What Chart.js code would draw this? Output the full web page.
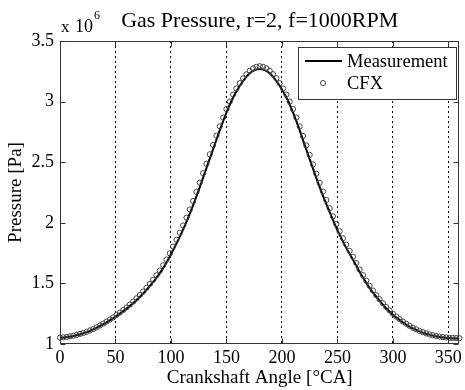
<!DOCTYPE html>
<html><head><meta charset="utf-8">
<script src="https://cdn.jsdelivr.net/npm/chart.js@4/dist/chart.umd.min.js"></script>
<style>html,body{margin:0;padding:0;background:#fff}</style>
</head><body>
<canvas id="c" width="465" height="390" style="display:block;width:465px;height:390px"></canvas>
<script>
// Measurement (x: crank angle in degrees, y: pressure in units of 10^6 Pa)
const measAngles = [0,5,10,15,20,25,30,35,40,45,50,55,60,65,70,75,80,85,90,95,100,105,110,115,120,125,130,135,140,145,150,155,160,165,170,175,180,185,190,195,200,205,210,215,220,225,230,235,240,245,250,255,260,265,270,275,280,285,290,295,300,305,310,315,320,325,330,335,340,345,350,355,360];
const measValues = [1.050,1.055,1.062,1.072,1.085,1.100,1.120,1.143,1.168,1.195,1.225,1.258,1.292,1.330,1.372,1.418,1.468,1.523,1.585,1.655,1.740,1.830,1.925,2.030,2.145,2.270,2.400,2.530,2.660,2.790,2.910,3.015,3.100,3.170,3.225,3.258,3.270,3.258,3.225,3.170,3.100,3.015,2.910,2.790,2.655,2.525,2.395,2.270,2.155,2.045,1.940,1.845,1.760,1.680,1.595,1.520,1.450,1.390,1.335,1.285,1.242,1.205,1.172,1.144,1.120,1.100,1.084,1.071,1.061,1.054,1.049,1.046,1.045];
// CFX simulation
const cfxAngles = [0,3,6,9,12,15,18,21,24,27,30,33,36,39,42,45,48,51,54,57,60,63,66,69,72,75,78,81,84,87,90,93,96,99,102,105,108,111,114,117,120,123,126,129,132,135,138,141,144,147,150,153,156,159,162,165,168,171,174,177,180,183,186,189,192,195,198,201,204,207,210,213,216,219,222,225,228,231,234,237,240,243,246,249,252,255,258,261,264,267,270,273,276,279,282,285,288,291,294,297,300,303,306,309,312,315,318,321,324,327,330,333,336,339,342,345,348,351,354,357,360];
const cfxValues = [1.052,1.055,1.058,1.063,1.068,1.075,1.083,1.091,1.100,1.112,1.124,1.138,1.153,1.168,1.185,1.202,1.220,1.240,1.259,1.281,1.302,1.326,1.350,1.377,1.404,1.433,1.464,1.496,1.530,1.567,1.606,1.650,1.697,1.748,1.804,1.860,1.918,1.978,2.042,2.110,2.180,2.255,2.331,2.409,2.487,2.565,2.642,2.719,2.796,2.868,2.938,3.000,3.058,3.108,3.152,3.192,3.225,3.254,3.274,3.287,3.292,3.287,3.274,3.254,3.226,3.193,3.152,3.108,3.058,3.000,2.938,2.868,2.795,2.716,2.638,2.560,2.482,2.405,2.330,2.258,2.188,2.120,2.054,1.990,1.930,1.872,1.820,1.768,1.720,1.668,1.615,1.568,1.523,1.480,1.441,1.403,1.369,1.336,1.305,1.277,1.250,1.227,1.205,1.185,1.167,1.150,1.135,1.121,1.108,1.098,1.088,1.079,1.072,1.066,1.061,1.057,1.054,1.051,1.050,1.049,1.048];
const xTicks = [0,50,100,150,200,250,300,350];
const yTicks = [1,1.5,2,2.5,3,3.5];
const titleText = 'Gas Pressure, r=2, f=1000RPM';
const xLabel = 'Crankshaft Angle [°CA]';
const yLabel = 'Pressure [Pa]';
const seriesNames = ['Measurement', 'CFX'];

const SERIF = '"Liberation Serif", "Times New Roman", serif';

const framePlugin = {
  id: 'frame',
  afterDraw(chart) {
    const ctx = chart.ctx, a = chart.chartArea;
    const xs = chart.scales.x, ys = chart.scales.y;
    ctx.save();
    ctx.strokeStyle = '#333';
    ctx.lineWidth = 1;
    ctx.setLineDash([]);
    const L = Math.round(a.left) + 0.5, R = Math.round(a.right) - 0.5;
    const T = Math.round(a.top) + 0.5, B = Math.round(a.bottom) - 0.5;
    ctx.strokeRect(L, T, R - L, B - T);
    ctx.beginPath();
    xTicks.forEach(v => {
      const px = Math.round(xs.getPixelForValue(v)) + 0.5;
      ctx.moveTo(px, B); ctx.lineTo(px, B - 5);
      ctx.moveTo(px, T); ctx.lineTo(px, T + 5);
    });
    yTicks.forEach(v => {
      const py = Math.round(ys.getPixelForValue(v)) + 0.5;
      ctx.moveTo(L, py); ctx.lineTo(L + 5, py);
      ctx.moveTo(R, py); ctx.lineTo(R - 5, py);
    });
    ctx.stroke();

    // title
    ctx.fillStyle = '#000';
    ctx.font = '22px ' + SERIF;
    ctx.textAlign = 'center';
    ctx.textBaseline = 'alphabetic';
    ctx.fillText(titleText, (a.left + a.right) / 2, 27);
    // exponent
    ctx.textAlign = 'left';
    ctx.font = '17px ' + SERIF;
    ctx.fillText('x', a.left + 1, 32);
    ctx.font = '18px ' + SERIF;
    ctx.fillText('10', a.left + 15, 32);
    ctx.font = '12px ' + SERIF;
    ctx.fillText('6', a.left + 34, 19);

    // legend
    const lx = 298, ly = 47, lw = 158, lh = 52;
    ctx.fillStyle = '#fff';
    ctx.fillRect(lx, ly, lw, lh);
    ctx.strokeStyle = '#333';
    ctx.strokeRect(lx + 0.5, ly + 0.5, lw, lh);
    ctx.strokeStyle = '#000';
    ctx.lineWidth = 2;
    ctx.beginPath(); ctx.moveTo(305, 61); ctx.lineTo(342, 61); ctx.stroke();
    ctx.lineWidth = 1;
    ctx.strokeStyle = '#444';
    ctx.beginPath(); ctx.arc(323, 83, 2.5, 0, Math.PI * 2); ctx.stroke();
    ctx.fillStyle = '#000';
    ctx.font = '18.5px ' + SERIF;
    ctx.textBaseline = 'middle';
    ctx.fillText(seriesNames[0], 347, 62);
    ctx.fillText(seriesNames[1], 347, 84);
    ctx.restore();
  }
};

new Chart(document.getElementById('c'), {
  type: 'line',
  data: {
    datasets: [
      {
        label: seriesNames[0],
        data: measAngles.map((x, i) => ({x, y: measValues[i]})),
        borderColor: '#000',
        borderWidth: 2,
        pointRadius: 0,
        fill: false,
        cubicInterpolationMode: 'monotone',
        order: 1
      },
      {
        label: seriesNames[1],
        data: cfxAngles.map((x, i) => ({x, y: cfxValues[i]})),
        showLine: false,
        pointRadius: 2.6,
        pointBorderWidth: 1,
        pointBorderColor: '#444',
        pointBackgroundColor: 'rgba(0,0,0,0)',
        clip: 6,
        order: 0
      }
    ]
  },
  options: {
    responsive: false,
    devicePixelRatio: 1,
    animation: false,
    layout: {padding: {top: 41, right: 5, left: 0, bottom: 0}},
    plugins: {legend: {display: false}, tooltip: {enabled: false}, title: {display: false}},
    scales: {
      x: {
        type: 'linear', min: 0, max: 360,
        afterBuildTicks: s => { s.ticks = xTicks.map(v => ({value: v})); },
        afterFit: s => { s.height = 46; },
        grid: {
          color: c => (c.tick && c.tick.value === 0) ? 'rgba(0,0,0,0)' : '#000',
          lineWidth: 1, drawTicks: false
        },
        border: {display: false, dash: [2, 3]},
        ticks: {font: {family: SERIF, size: 18}, color: '#000', padding: 3, maxRotation: 0, autoSkip: false},
        title: {display: true, text: xLabel, color: '#000', font: {family: SERIF, size: 19}, padding: {top: 0, bottom: 1}}
      },
      y: {
        type: 'linear', min: 1, max: 3.5,
        afterBuildTicks: s => { s.ticks = yTicks.map(v => ({value: v})); },
        afterFit: s => { s.width = 60; },
        grid: {display: false, drawTicks: false},
        border: {display: false},
        ticks: {font: {family: SERIF, size: 18}, color: '#000', padding: 6, callback: v => String(v)},
        title: {display: true, text: yLabel, color: '#000', font: {family: SERIF, size: 19}, padding: {top: 5, bottom: 0}}
      }
    }
  },
  plugins: [framePlugin]
});
</script>
</body></html>
